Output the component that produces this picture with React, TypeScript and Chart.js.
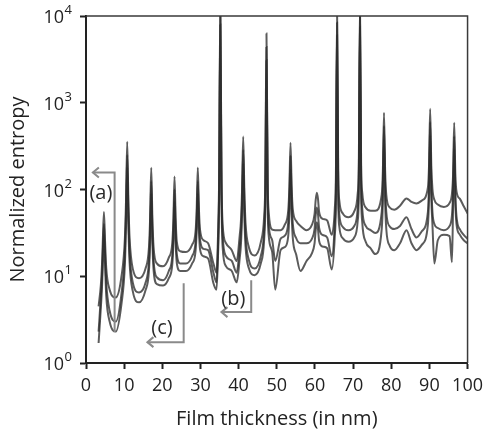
import { useEffect, useRef } from "react";
import { Chart, registerables } from "chart.js";

Chart.register(...registerables);

const FONT = "'Open Sans', 'DejaVu Sans', sans-serif";

// Film thickness grid (nm)
const thicknessNm = [
  3.3, 3.9, 4.2, 4.4, 4.7, 5.0, 5.3, 6.2, 7.8, 9.3,
  10.2, 10.5, 10.8, 11.1, 11.4, 12.3, 13.9, 15.6, 16.5, 16.8,
  17.1, 17.4, 17.7, 18.6, 20.2, 21.7, 22.6, 22.9, 23.2, 23.5,
  23.8, 24.7, 26.2, 27.8, 28.7, 29.0, 29.3, 29.6, 29.9, 30.8,
  32.0, 33.4, 34.2, 34.6, 34.9, 35.2, 35.5, 35.8, 36.7, 38.2,
  39.5, 40.3, 40.6, 40.9, 41.2, 41.5, 41.8, 42.7, 44.2, 45.8,
  46.7, 47.0, 47.3, 47.6, 47.9, 48.8, 49.6, 51.0, 52.1, 53.0,
  53.3, 53.6, 53.9, 54.2, 55.1, 56.2, 57.8, 59.2, 59.9, 60.2,
  60.5, 60.8, 61.1, 62.0, 63.2, 64.4, 65.2, 65.5, 65.8, 66.1,
  66.4, 67.3, 68.8, 70.3, 71.2, 71.5, 71.8, 72.1, 72.4, 73.3,
  74.6, 75.8, 77.5, 77.8, 78.1, 78.4, 78.7, 79.6, 80.8, 82.3,
  84.0, 85.3, 86.6, 88.0, 89.6, 89.9, 90.2, 90.5, 90.8, 91.3,
  92.2, 93.8, 95.3, 95.9, 96.2, 96.5, 96.8, 97.1, 98.0, 99.0,
  100.0,
];

// Normalized entropy, upper curve
const entropyUpper = [
  4.5, 8, 14, 25, 55, 25, 12.5, 7, 5.7, 10,
  28, 78, 355, 79, 29, 12, 9.5, 12.3, 21.5, 47,
  178, 47, 22, 14, 13, 16.4, 24, 44, 141, 45,
  25, 19.4, 19, 23, 32.5, 58, 178, 59, 34, 26,
  24, 14, 11, 30, 150, 15000, 160, 40, 24, 20,
  15, 30, 43, 100, 407, 99, 42, 21.5, 17.4, 24.5,
  50, 133, 6300, 135, 54, 34.5, 34, 34, 39.4, 57,
  107, 347, 107, 59, 43.4, 38, 34, 39, 52, 76,
  92, 78, 55, 46, 44, 30, 60, 154, 12000, 160,
  74, 53, 48, 56, 89, 202, 15000, 203, 92, 62,
  57, 57, 87, 163, 767, 163, 87, 62, 58.5, 65,
  79, 72, 69, 74.5, 105, 189, 850, 187, 101, 76,
  67, 63, 70, 89, 148, 590, 151, 95, 78, 64,
  53,
];

// Normalized entropy, middle curve
const entropyMiddle = [
  2.3, 5.9, 10, 18, 40, 18, 8.5, 4, 3.0, 6.3,
  19.5, 55, 250, 55, 20, 8.3, 6.5, 8.4, 15, 33,
  125, 33, 15.4, 9.7, 9, 11.5, 17, 31.5, 100, 32,
  18, 14, 14, 17, 24.5, 42.5, 125, 43, 26, 20.7,
  20, 11, 8.5, 22, 110, 11000, 115, 30, 17, 15,
  11, 22, 31, 71, 285, 70, 30, 15.3, 12.3, 17,
  35, 94, 4400, 95, 38, 26, 15, 27, 29.4, 41.5,
  76, 245, 75, 40.5, 27.4, 24, 24, 27, 35, 51,
  62, 52, 36, 30, 28, 17, 41, 105, 8400, 111,
  51, 37, 34, 38, 60, 138, 10500, 138, 60, 38,
  34, 31.5, 55, 109, 540, 109, 55, 37.5, 35, 38,
  48, 35, 28, 33, 55, 115, 600, 115, 55, 40,
  36, 34, 38, 50, 91, 410, 90, 49, 34.6, 30,
  27,
];

// Normalized entropy, lower curve
const entropyLower = [
  1.7, 4.4, 7.6, 13.5, 30, 13.5, 6, 3, 2.3, 4.8,
  14, 40, 180, 40, 15, 6.6, 5, 6.9, 11.6, 24,
  90, 24.5, 12, 8.1, 7.8, 9.5, 13.5, 23.5, 72, 24,
  14.2, 11.5, 11.5, 14, 19.3, 32.5, 90, 33, 20.3, 17,
  16, 8.3, 7, 17, 80, 8000, 85, 22, 13, 11.5,
  8.5, 16.4, 23, 51, 200, 50, 22.5, 12.3, 10.3, 14,
  27, 68, 3100, 69, 29, 19, 7, 20, 21.7, 29,
  53, 170, 52, 27.5, 17.7, 11.5, 15, 18.4, 24, 34,
  42, 35, 25.5, 22, 21, 12, 29, 76, 6000, 80,
  37, 27.4, 25, 28, 43, 99, 7500, 98, 42, 25,
  21, 18, 35, 72, 380, 72, 35, 22.4, 20, 24,
  34, 24, 20, 23, 39, 81, 420, 81, 39, 14,
  26, 30, 29, 14.5, 60, 290, 69, 40, 30, 26,
  24,
];

const xTickStep = 10;
const yDecades = [1, 10, 100, 1000, 10000];

// Bracketed call-outs: a vertical stem at x running from `from` to `to`,
// then an arrow pointing left to tipX at the `to` level.
const callouts = [
  { label: "(a)", x: 7.5, from: 2.27, to: 157, tipX: 1.8, labelX: 3.9, labelY: 90 },
  { label: "(b)", x: 43.3, from: 9.0, to: 3.86, tipX: 35.5, labelX: 38.6, labelY: 5.4 },
  { label: "(c)", x: 25.6, from: 8.3, to: 1.74, tipX: 16.1, labelX: 19.9, labelY: 2.5 },
];

const decorations = {
  id: "decorations",
  afterDatasetsDraw(chart: any) {
    const { ctx, chartArea: a, scales } = chart;
    const xs = scales.x;
    const ys = scales.y;
    ctx.save();

    // closing frame on the top and right
    ctx.strokeStyle = "#3a3a3a";
    ctx.lineWidth = 1.5;
    ctx.beginPath();
    ctx.moveTo(a.left, a.top);
    ctx.lineTo(a.right, a.top);
    ctx.lineTo(a.right, a.bottom);
    ctx.stroke();

    // call-out brackets and labels
    for (const c of callouts) {
      const px = xs.getPixelForValue(c.x);
      const py0 = ys.getPixelForValue(c.from);
      const py1 = ys.getPixelForValue(c.to);
      const tip = xs.getPixelForValue(c.tipX);
      ctx.strokeStyle = "#8a8a8a";
      ctx.lineWidth = 2;
      ctx.beginPath();
      ctx.moveTo(px, py0);
      ctx.lineTo(px, py1);
      ctx.lineTo(tip, py1);
      ctx.stroke();
      ctx.beginPath();
      ctx.moveTo(tip + 6, py1 - 5);
      ctx.lineTo(tip, py1);
      ctx.lineTo(tip + 6, py1 + 5);
      ctx.stroke();

      ctx.fillStyle = "#2a2a2a";
      ctx.font = `20px ${FONT}`;
      ctx.textAlign = "center";
      ctx.textBaseline = "middle";
      ctx.fillText(c.label, xs.getPixelForValue(c.labelX), ys.getPixelForValue(c.labelY));
    }
    ctx.restore();
  },
  afterDraw(chart: any) {
    // power-of-ten tick labels with raised exponents
    const { ctx, chartArea: a, scales } = chart;
    const ys = scales.y;
    ctx.save();
    ctx.fillStyle = "#222";
    const right = a.left - 14;
    for (const v of yDecades) {
      const py = ys.getPixelForValue(v);
      const exp = String(Math.round(Math.log10(v)));
      ctx.font = `13px ${FONT}`;
      const ew = ctx.measureText(exp).width;
      ctx.textAlign = "left";
      ctx.textBaseline = "alphabetic";
      ctx.fillText(exp, right - ew, py - 2);
      ctx.font = `18px ${FONT}`;
      ctx.textAlign = "right";
      ctx.textBaseline = "middle";
      ctx.fillText("10", right - ew - 0.5, py + 2);
    }
    ctx.restore();
  },
};

function curve(values: number[]) {
  return thicknessNm.map((x, i) => ({ x, y: values[i] }));
}

export default function App() {
  const canvasRef = useRef<HTMLCanvasElement | null>(null);

  useEffect(() => {
    document.body.style.margin = "0";
    const canvas = canvasRef.current;
    if (!canvas) return;

    const lineStyle = {
      borderColor: "rgba(45,45,45,0.78)",
      borderWidth: 2,
      pointRadius: 0,
      cubicInterpolationMode: "monotone" as const,
      fill: false,
    };

    const chart = new Chart(canvas, {
      type: "line",
      data: {
        datasets: [
          { label: "upper", data: curve(entropyUpper), ...lineStyle },
          { label: "middle", data: curve(entropyMiddle), ...lineStyle },
          { label: "lower", data: curve(entropyLower), ...lineStyle },
        ],
      },
      options: {
        animation: false,
        responsive: false,
        devicePixelRatio: 1,
        layout: { padding: { top: 16, right: 17, left: 0, bottom: 0 } },
        plugins: {
          legend: { display: false },
          tooltip: { enabled: false },
        },
        scales: {
          x: {
            type: "linear",
            min: 0,
            max: 100,
            afterFit: (s: any) => {
              s.height = 69;
            },
            ticks: {
              stepSize: xTickStep,
              font: { family: FONT, size: 18 },
              color: "#222",
              padding: 6,
              maxRotation: 0,
            },
            grid: {
              drawOnChartArea: false,
              tickLength: 6,
              tickWidth: 2,
              tickColor: "#222",
            },
            border: { color: "#222", width: 2 },
            title: {
              display: true,
              text: "Film thickness (in nm)",
              font: { family: FONT, size: 20 },
              color: "#222",
              padding: { top: 0, bottom: 1 },
            },
          },
          y: {
            type: "logarithmic",
            min: 1,
            max: 10000,
            afterFit: (s: any) => {
              s.width = 86;
            },
            afterBuildTicks: (s: any) => {
              s.ticks = yDecades.map((v) => ({ value: v }));
            },
            ticks: { display: false },
            grid: {
              drawOnChartArea: false,
              tickLength: 6,
              tickWidth: 2,
              tickColor: "#222",
            },
            border: { color: "#222", width: 2 },
            title: {
              display: true,
              text: "Normalized entropy",
              font: { family: FONT, size: 20 },
              color: "#222",
              padding: { top: 6, bottom: 0 },
            },
          },
        },
      },
      plugins: [decorations],
    });

    return () => chart.destroy();
  }, []);

  return (
    <div style={{ width: 489, height: 432 }}>
      <canvas ref={canvasRef} width={489} height={432} />
    </div>
  );
}
